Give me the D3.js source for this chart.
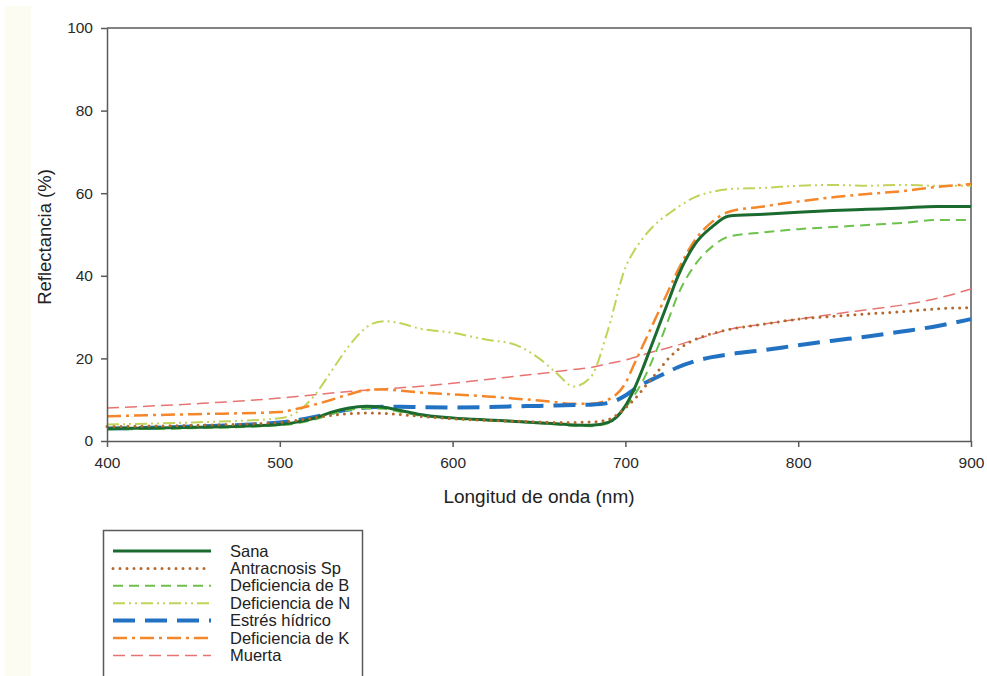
<!DOCTYPE html>
<meta charset="utf-8">
<style>
  body { margin: 0; background: #fff; }
  svg text { font-family: "Liberation Sans", Arial, sans-serif; }
  .axis path, .axis line { stroke: #5a5a5a; stroke-width: 1.5px; }
  .axis text { fill: #2a2a2a; }
</style>
<body>
<div id="chart"></div>
<script src="https://d3js.org/d3.v7.min.js"></script>
<script>
  const width = 987, height = 676;

  // wavelength grid (nm)
  const wavelengths = [400,450,500,510,520,530,540,550,560,570,580,600,620,635,650,660,670,680,690,700,705,710,715,720,725,730,740,750,760,780,800,820,840,860,880,900];

  const sana =        [3.0,3.3,4.0,4.6,5.5,7.0,8.0,8.4,8.2,7.4,6.5,5.6,5.1,4.8,4.4,4.2,3.9,3.8,4.5,8.5,12.5,17.5,23.0,28.5,34.0,39.5,47.5,51.8,54.5,54.9,55.4,55.8,56.1,56.4,56.8,56.8];
  const antracnosis = [3.5,3.8,4.5,5.0,5.6,6.2,6.6,6.8,6.7,6.4,6.0,5.4,5.0,4.8,4.6,4.5,4.5,4.6,5.2,8.0,10.0,12.5,15.0,17.5,20.0,22.0,24.5,26.0,27.0,28.3,29.5,30.2,30.8,31.3,32.0,32.3];
  const defB =        [2.8,3.1,3.8,4.3,5.2,6.5,7.5,7.9,7.8,7.0,6.2,5.4,5.0,4.7,4.3,4.0,3.7,3.6,4.3,8.0,11.0,14.5,19.0,24.0,29.5,35.0,42.5,47.0,49.5,50.5,51.3,51.8,52.3,52.8,53.5,53.5];
  const defN =        [4.0,4.5,5.5,7.0,11.0,17.0,23.0,27.5,29.0,28.5,27.3,26.2,24.5,23.5,20.0,16.5,13.2,15.5,27.0,42.0,46.0,49.0,51.5,53.5,55.0,56.5,59.0,60.3,61.0,61.3,61.8,62.0,61.8,62.0,61.8,61.8];
  const estres =      [3.0,3.5,4.5,5.0,5.8,6.8,7.6,8.1,8.3,8.3,8.2,8.1,8.2,8.4,8.5,8.6,8.7,8.8,9.2,11.0,12.5,13.8,14.8,15.8,16.8,17.8,19.3,20.3,21.0,22.0,23.2,24.3,25.3,26.5,27.8,29.5];
  const defK =        [6.0,6.5,7.0,7.8,8.8,10.0,11.3,12.3,12.5,12.2,11.8,11.3,10.8,10.3,9.8,9.4,9.0,9.0,10.0,14.0,18.5,23.0,27.5,32.0,36.5,41.0,48.5,53.0,55.5,56.8,58.0,59.0,59.8,60.5,61.5,62.2];
  const muerta =      [8.0,9.0,10.4,10.8,11.2,11.6,12.0,12.3,12.6,12.9,13.2,14.0,14.9,15.6,16.3,16.8,17.3,17.8,18.7,19.6,20.2,20.8,21.5,22.0,22.6,23.2,24.5,25.8,27.0,28.3,29.5,30.7,31.8,32.9,34.5,36.8];

  const xTicks = [400, 500, 600, 700, 800, 900];
  const yTicks = [0, 20, 40, 60, 80, 100];

  // legend order and styles
  const series = [
    {name: "Sana",               values: sana,        color: "#1b6a2f", w: 3,   dash: null,             cap: "butt"},
    {name: "Antracnosis Sp",     values: antracnosis, color: "#b5682b", w: 3,   dash: "0,7",            cap: "round"},
    {name: "Deficiencia de B",   values: defB,        color: "#6cc24a", w: 2,   dash: "10,6",           cap: "butt"},
    {name: "Deficiencia de N",   values: defN,        color: "#c3d35a", w: 2,   dash: "12,4,2,4,2,4",   cap: "butt"},
    {name: "Estrés hídrico",     values: estres,      color: "#2272c3", w: 4,   dash: "22,10",          cap: "butt"},
    {name: "Deficiencia de K",   values: defK,        color: "#f5862a", w: 2.5, dash: "14,5,3,5",       cap: "butt"},
    {name: "Muerta",             values: muerta,      color: "#e77473", w: 1.5, dash: "12,6",           cap: "butt"}
  ];
  const drawOrder = ["Muerta", "Deficiencia de N", "Deficiencia de K", "Estrés hídrico", "Deficiencia de B", "Sana", "Antracnosis Sp"];

  const svg = d3.select("#chart").append("svg")
    .attr("width", width)
    .attr("height", height);

  // faint strip on the left
  svg.append("rect")
    .attr("x", 5).attr("y", 6).attr("width", 26).attr("height", height - 6)
    .attr("fill", "#fcfcf3");

  const x = d3.scaleLinear().domain([400, 900]).range([107, 971]);
  const y = d3.scaleLinear().domain([0, 100]).range([441, 28]);

  // frame (top / right)
  svg.append("path")
    .attr("d", `M${x(400)},${y(100)}H${x(900)}V${y(0)}`)
    .attr("fill", "none")
    .attr("stroke", "#5a5a5a")
    .attr("stroke-width", 1.5);

  const line = d3.line()
    .x((d, i) => x(wavelengths[i]))
    .y(d => y(d))
    .curve(d3.curveMonotoneX);

  drawOrder.forEach(function(n) {
    const s = series.find(d => d.name === n);
    svg.append("path")
      .attr("d", line(s.values))
      .attr("fill", "none")
      .attr("stroke", s.color)
      .attr("stroke-width", s.w)
      .attr("stroke-dasharray", s.dash)
      .attr("stroke-linecap", s.cap)
      .attr("stroke-linejoin", "round");
  });

  // axes
  svg.append("g")
    .attr("class", "axis")
    .attr("transform", `translate(0,${y(0)})`)
    .call(d3.axisBottom(x).tickValues(xTicks).tickSize(6).tickPadding(10).tickSizeOuter(0));

  svg.append("g")
    .attr("class", "axis")
    .attr("transform", `translate(${x(400)},0)`)
    .call(d3.axisLeft(y).tickValues(yTicks).tickSize(6).tickPadding(8).tickSizeOuter(0));

  svg.selectAll(".axis text")
    .style("font-size", "15.5px")
    .style("font-family", "'Liberation Sans', Arial, sans-serif");

  svg.append("text")
    .attr("x", 539).attr("y", 503)
    .attr("text-anchor", "middle")
    .style("font-size", "19px")
    .attr("fill", "#222")
    .text("Longitud de onda (nm)");

  svg.append("text")
    .attr("transform", "translate(51,237) rotate(-90)")
    .attr("text-anchor", "middle")
    .style("font-size", "18.5px")
    .attr("fill", "#222")
    .text("Reflectancia (%)");

  // legend
  const legend = svg.append("g");
  legend.append("rect")
    .attr("x", 103.5).attr("y", 530.5)
    .attr("width", 259).attr("height", 170)
    .attr("fill", "#fff")
    .attr("stroke", "#5a5a5a")
    .attr("stroke-width", 1.5);

  series.forEach(function(s, i) {
    const yy = 551 + i * 17.4;
    legend.append("line")
      .attr("x1", 113).attr("x2", 211)
      .attr("y1", yy).attr("y2", yy)
      .attr("stroke", s.color)
      .attr("stroke-width", s.w)
      .attr("stroke-dasharray", s.dash)
      .attr("stroke-linecap", s.cap);
    legend.append("text")
      .attr("x", 230).attr("y", yy + 5.5)
      .style("font-size", "16.5px")
      .attr("fill", "#222")
      .text(s.name);
  });
</script>
</body>
</html>
